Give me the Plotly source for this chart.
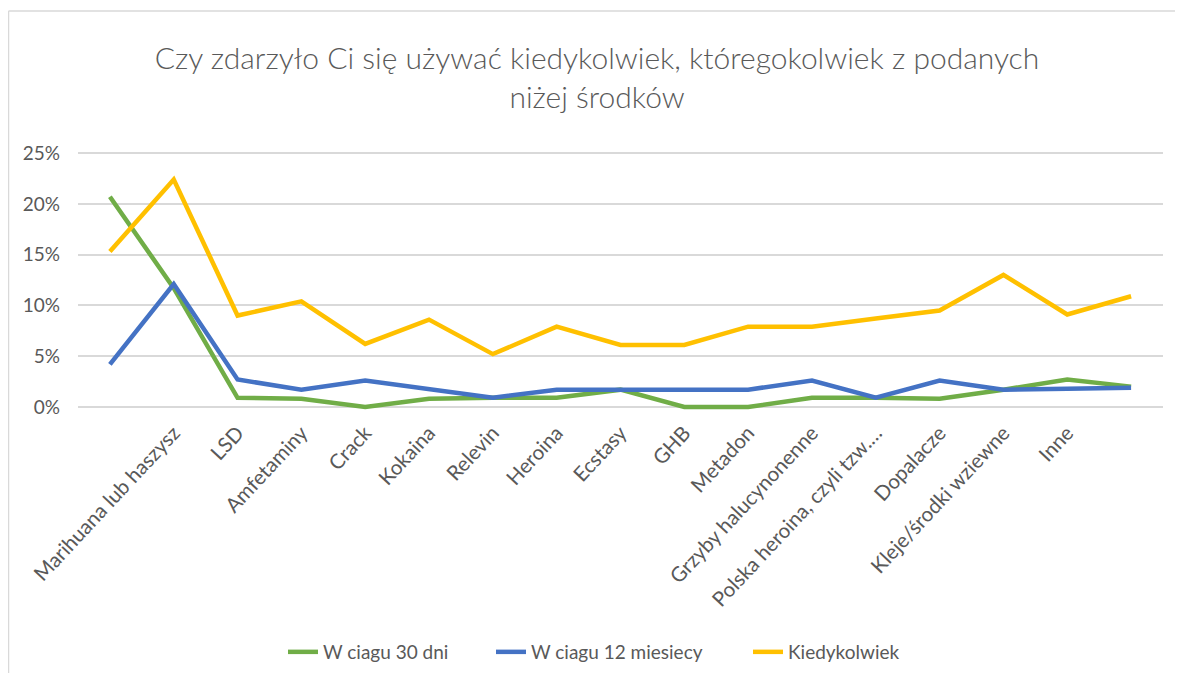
import plotly.graph_objects as go

categories = ["", "Marihuana lub haszysz", "LSD", "Amfetaminy", "Crack", "Kokaina",
              "Relevin", "Heroina", "Ecstasy", "GHB", "Metadon", "Grzyby halucynonenne",
              "Polska heroina, czyli tzw.…", "Dopalacze", "Kleje/środki wziewne", "Inne", ""]

w_30_dni = [0.207, 0.117, 0.009, 0.008, 0.000, 0.008, 0.009, 0.009, 0.017, 0.000, 0.000,
            0.009, 0.009, 0.008, 0.017, 0.027, 0.020]
w_12_mies = [0.042, 0.121, 0.027, 0.017, 0.026, 0.017, 0.009, 0.017, 0.017, 0.017, 0.017,
             0.026, 0.009, 0.026, 0.017, 0.018, 0.019]
kiedykolwiek = [0.153, 0.224, 0.090, 0.104, 0.062, 0.086, 0.052, 0.079, 0.061, 0.061, 0.079,
                0.079, 0.087, 0.095, 0.130, 0.091, 0.109]

series = [
    ("W ciagu 30 dni", w_30_dni, "#70AD47", "legend"),
    ("W ciagu 12 miesiecy", w_12_mies, "#4472C4", "legend2"),
    ("Kiedykolwiek", kiedykolwiek, "#FFC000", "legend3"),
]

x_idx = list(range(len(categories)))

fig = go.Figure()
for name, vals, color, leg in series:
    fig.add_trace(go.Scatter(x=x_idx, y=vals, name=name, mode="lines", legend=leg,
                             line=dict(color=color, width=4.5)))

font_family = "Lato, 'Open Sans', sans-serif"
grey = "#595959"

OFF = 8  # page body margin
W, H = 1183 - 2 * OFF, 681 - 2 * OFF
ml = 78 - OFF
mr = W - (1163 - OFF)
mt = 148 - OFF
mb = H - (412 - OFF)
pw = W - ml - mr
ph = H - mt - mb


def px_x(px):
    return (px - OFF - ml) / pw


def px_y(py):
    return (H - mb - (py - OFF)) / ph


def legend_at(px):
    return dict(orientation="h", x=px_x(px), xanchor="left", y=px_y(652), yanchor="middle",
                font=dict(size=19, color=grey), bgcolor="rgba(0,0,0,0)")


fig.update_layout(
    width=W, height=H,
    margin=dict(l=ml, r=mr, t=mt, b=mb, autoexpand=False),
    paper_bgcolor="white", plot_bgcolor="white",
    font=dict(family=font_family, color=grey, size=19),
    title=dict(text="Czy zdarzyło Ci się używać kiedykolwiek, któregokolwiek z podanych<br>niżej środków",
               x=(597 - OFF) / W, xanchor="center", y=1 - (69 - OFF) / H, yanchor="middle",
               font=dict(size=30, color=grey, family=font_family, weight=300)),
    showlegend=True,
    legend=legend_at(283),
    legend2=legend_at(491),
    legend3=legend_at(748),
    xaxis=dict(range=[-0.5, len(categories) - 0.5], tickmode="array", tickvals=x_idx,
               ticktext=categories, tickangle=-47, showgrid=False, zeroline=False,
               showline=False, ticks="", tickfont=dict(size=20.5, color=grey),
               ticklabelstandoff=4),
    yaxis=dict(range=[-0.005, 0.255], tickmode="array",
               tickvals=[0, 0.05, 0.10, 0.15, 0.20, 0.25],
               ticktext=["0%", "5%", "10%", "15%", "20%", "25%"],
               showgrid=True, gridcolor="#D9D9D9", gridwidth=1.5, zeroline=False,
               showline=False, ticks="", tickfont=dict(size=19, color=grey),
               ticklabelstandoff=17),
    shapes=[
        dict(type="line", xref="paper", yref="paper", x0=px_x(8.5), x1=px_x(8.5),
             y0=px_y(700), y1=px_y(11), line=dict(color="#D9D9D9", width=1.5)),
        dict(type="line", xref="paper", yref="paper", x0=px_x(8.5), x1=px_x(1200),
             y0=px_y(11), y1=px_y(11), line=dict(color="#D9D9D9", width=1.5)),
    ],
)

fig.write_html("out.html")
